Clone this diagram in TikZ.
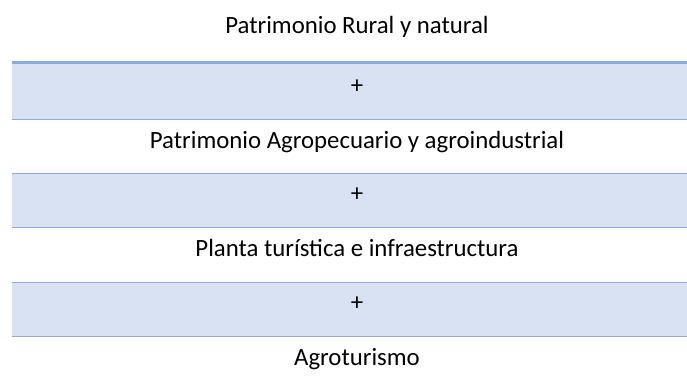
\documentclass[tikz,border=0pt]{standalone}
\usepackage{fontspec}
\setmainfont{Carlito}
\definecolor{bandfill}{HTML}{D9E2F3}
\definecolor{bandline}{HTML}{8EAADB}
\tikzset{
  rowtext/.style={anchor=base, inner sep=0pt, font=\fontsize{24.8}{29}\selectfont, text=black},
  band/.style={fill=bandfill, draw=none},
  thinrule/.style={draw=bandline, line width=1pt},
  thickrule/.style={draw=bandline, line width=3pt}
}
\begin{document}
\begin{tikzpicture}[x=1pt,y=-1pt]
\useasboundingbox (0,0) rectangle (687,384);
% bands
\fill[band] (12,61) rectangle (687,119.5);
\fill[band] (12,173) rectangle (687,227.5);
\fill[band] (12,282) rectangle (687,336.5);
\draw[thickrule] (12,62.5) -- (687,62.5);
\draw[thinrule] (12,119.5) -- (687,119.5);
\draw[thinrule] (12,173.5) -- (687,173.5);
\draw[thinrule] (12,227.5) -- (687,227.5);
\draw[thinrule] (12,282.5) -- (687,282.5);
\draw[thinrule] (12,336.5) -- (687,336.5);
% texts
\node[rowtext] (r1) at (357,33) {Patrimonio Rural y natural};
\node[rowtext] (p1) at (357,93) {+};
\node[rowtext] (r2) at (357,148) {Patrimonio Agropecuario y agroindustrial};
\node[rowtext] (p2) at (357,201) {+};
\node[rowtext] (r3) at (357,256.5) {Planta turística e infraestructura};
\node[rowtext] (p3) at (357,310) {+};
\node[rowtext] (r4) at (357,365) {Agroturismo};
\end{tikzpicture}
\end{document}
